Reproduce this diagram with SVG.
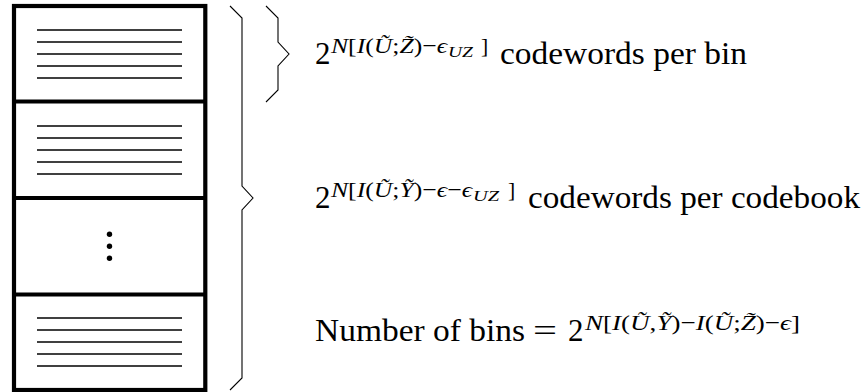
<svg xmlns="http://www.w3.org/2000/svg" width="866" height="392" viewBox="0 0 866 392">
<style>
.frame{fill:none;stroke:#000;stroke-width:4.2}
.rule{stroke:#000;stroke-width:1.3}
.brace{fill:none;stroke:#000;stroke-width:1.1;stroke-linejoin:miter}
text{font-family:"Liberation Serif","DejaVu Serif",serif;fill:#000}
.t{font-size:31px}
.s{font-size:21.7px}
.ss{font-size:15.5px;font-style:italic}
.i{font-style:italic}
</style>
<rect width="866" height="392" fill="#fff"/>
<g id="codebook">
  <rect class="frame" x="14" y="6" width="191.3" height="384"/>
  <line class="frame" x1="14" y1="101.5" x2="205.3" y2="101.5"/>
  <line class="frame" x1="14" y1="198" x2="205.3" y2="198"/>
  <line class="frame" x1="14" y1="294.5" x2="205.3" y2="294.5"/>
</g>
<g id="bin1">
  <line class="rule" x1="37" y1="30" x2="182" y2="30"/>
  <line class="rule" x1="37" y1="42" x2="182" y2="42"/>
  <line class="rule" x1="37" y1="54" x2="182" y2="54"/>
  <line class="rule" x1="37" y1="66" x2="182" y2="66"/>
  <line class="rule" x1="37" y1="78" x2="182" y2="78"/>
</g>
<g id="bin2">
  <line class="rule" x1="37" y1="126" x2="182" y2="126"/>
  <line class="rule" x1="37" y1="138" x2="182" y2="138"/>
  <line class="rule" x1="37" y1="150" x2="182" y2="150"/>
  <line class="rule" x1="37" y1="162" x2="182" y2="162"/>
  <line class="rule" x1="37" y1="174" x2="182" y2="174"/>
</g>
<g id="bin-dots">
  <circle cx="109.5" cy="234.3" r="2.7"/>
  <circle cx="109.5" cy="246.3" r="2.7"/>
  <circle cx="109.5" cy="258.3" r="2.7"/>
</g>
<g id="bin-last">
  <line class="rule" x1="37" y1="318" x2="182" y2="318"/>
  <line class="rule" x1="37" y1="330" x2="182" y2="330"/>
  <line class="rule" x1="37" y1="342" x2="182" y2="342"/>
  <line class="rule" x1="37" y1="354" x2="182" y2="354"/>
  <line class="rule" x1="37" y1="366" x2="182" y2="366"/>
</g>
<g id="connectors">
  <path class="brace" d="M230,6 L242,18 L242,186 L253,198 L242,210 L242,378 L230,390"/>
  <path class="brace" d="M266,6 L278,18 L278,42 L289,54 L278,66 L278,90 L266,102"/>
</g>
<g id="label-bin">
  <text class="t" x="315" y="64">2</text>
  <text class="s" x="331" y="53" textLength="116" lengthAdjust="spacingAndGlyphs"><tspan class="i">N</tspan>[<tspan class="i">I</tspan>(<tspan class="i">Ũ</tspan>;<tspan class="i">Z̃</tspan>)−<tspan class="i">ϵ</tspan></text>
  <text class="ss" x="448" y="57" textLength="25" lengthAdjust="spacingAndGlyphs">UZ</text>
  <text class="s" x="481" y="53">]</text>
  <text class="t" x="500" y="64" textLength="247" lengthAdjust="spacingAndGlyphs">codewords per bin</text>
</g>
<g id="label-codebook">
  <text class="t" x="315" y="208">2</text>
  <text class="s" x="331" y="197" textLength="141" lengthAdjust="spacingAndGlyphs"><tspan class="i">N</tspan>[<tspan class="i">I</tspan>(<tspan class="i">Ũ</tspan>;<tspan class="i">Ỹ</tspan>)−<tspan class="i">ϵ</tspan>−<tspan class="i">ϵ</tspan></text>
  <text class="ss" x="473" y="201" textLength="26" lengthAdjust="spacingAndGlyphs">UZ</text>
  <text class="s" x="508" y="197">]</text>
  <text class="t" x="528" y="208" textLength="332" lengthAdjust="spacingAndGlyphs">codewords per codebook</text>
</g>
<g id="label-count">
  <text class="t" x="315" y="341" textLength="210" lengthAdjust="spacingAndGlyphs">Number of bins</text>
  <text class="t" x="533" y="341" textLength="24" lengthAdjust="spacingAndGlyphs">=</text>
  <text class="t" x="568" y="341">2</text>
  <text class="s" x="585" y="330" textLength="215" lengthAdjust="spacingAndGlyphs"><tspan class="i">N</tspan>[<tspan class="i">I</tspan>(<tspan class="i">Ũ</tspan>,<tspan class="i">Ỹ</tspan>)−<tspan class="i">I</tspan>(<tspan class="i">Ũ</tspan>;<tspan class="i">Z̃</tspan>)−<tspan class="i">ϵ</tspan>]</text>
</g>
</svg>
